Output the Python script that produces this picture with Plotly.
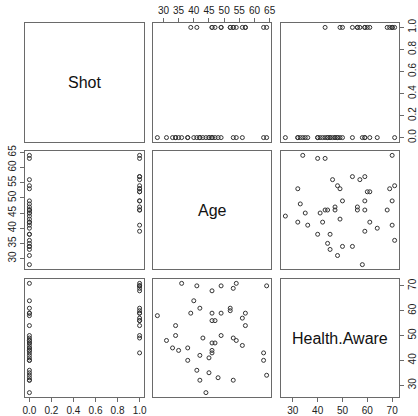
import plotly.graph_objects as go

# Data (Shot, Age, Health.Aware)
shot = [0, 1, 1, 1, 1, 1, 1, 0, 0, 1, 1, 0, 1, 0, 0, 1, 1, 1, 1, 0, 1, 0, 1, 0,
        0, 1, 0, 0, 0, 0, 0, 0, 0, 0, 0, 0, 0, 0, 1, 0, 0, 0, 0, 0, 0, 0, 0]
age = [36, 41, 49, 54, 53, 64, 46, 40, 42, 52, 52, 28, 39, 46, 49, 57, 56, 46, 47, 34, 57, 34, 49, 31,
       43, 53, 54, 46, 47, 56, 33, 35, 38, 46, 46, 42, 45, 38, 63, 63, 64, 41, 45, 48, 42, 53, 44]
health = [71, 70, 70, 71, 69, 70, 68, 64, 61, 61, 60, 58, 59, 59, 59, 59, 57, 56, 56, 54, 54, 50, 50, 48,
          49, 49, 48, 47, 47, 46, 45, 44, 45, 44, 43, 42, 41, 40, 43, 40, 34, 36, 35, 33, 32, 32, 27]

var_names = ["Shot", "Age", "Health.Aware"]
shot_ticks = [0.0, 0.2, 0.4, 0.6, 0.8, 1.0]
age_ticks = [30, 35, 40, 45, 50, 55, 60, 65]
health_ticks = [30, 40, 50, 60, 70]

data = [shot, age, health]
ticks = [shot_ticks, age_ticks, health_ticks]


def pad_range(v):
    lo, hi = min(v), max(v)
    d = (hi - lo) * 0.04
    return [lo - d, hi + d]


ranges = [pad_range(v) for v in data]

W, H = 418, 416
col_px = [(25, 144), (153, 271), (281, 399)]
row_px = [(23, 142), (151, 269), (279, 397)]

FONT = "Liberation Sans, Arial, sans-serif"
LINE = "#6a6a6a"
TXT = "#222222"

fig = go.Figure()
layout = dict(template="none", width=W, height=H, margin=dict(l=0, r=0, t=0, b=0, pad=0),
              paper_bgcolor="white", plot_bgcolor="white", showlegend=False,
              font=dict(family=FONT, size=10, color=TXT))
annotations = []

for i in range(3):
    for j in range(3):
        k = i * 3 + j + 1
        xs = "" if k == 1 else str(k)
        xd = [col_px[j][0] / W, col_px[j][1] / W]
        yd = [1 - row_px[i][1] / H, 1 - row_px[i][0] / H]
        xa = dict(domain=xd, anchor="y" + xs, range=ranges[j], showgrid=False,
                  zeroline=False, showline=True, mirror=True, linecolor=LINE,
                  linewidth=1, showticklabels=False, ticks="", automargin=False,
                  fixedrange=True)
        ya = dict(domain=yd, anchor="x" + xs, range=ranges[i], showgrid=False,
                  zeroline=False, showline=True, mirror=True, linecolor=LINE,
                  linewidth=1, showticklabels=False, ticks="", automargin=False,
                  fixedrange=True)
        # x axis ticks: col 1 and 3 at bottom (row 3), col 2 at top (row 1)
        if (j in (0, 2) and i == 2) or (j == 1 and i == 0):
            xa.update(showticklabels=True, ticks="outside", ticklen=4,
                      tickcolor=LINE, tickvals=ticks[j],
                      tickfont=dict(size=10, color=TXT, family=FONT))
            if j == 0:
                xa.update(tickformat=".1f")
            if j == 1:
                xa.update(side="top")
        # y axis ticks: row 2 on left (col 1), rows 1 and 3 on right (col 3)
        if (i == 1 and j == 0) or (i in (0, 2) and j == 2):
            ya.update(showticklabels=True, ticks="outside", ticklen=4,
                      tickcolor=LINE, tickvals=ticks[i], tickangle=-90,
                      tickfont=dict(size=10, color=TXT, family=FONT))
            if i == 0:
                ya.update(tickformat=".1f")
            if j == 2:
                ya.update(side="right")
        layout["xaxis" + xs] = xa
        layout["yaxis" + xs] = ya
        if i == j:
            fig.add_trace(go.Scatter(x=[], y=[], mode="markers",
                                     xaxis="x" + xs, yaxis="y" + xs,
                                     hoverinfo="skip"))
            annotations.append(dict(text=var_names[i], xref="x" + xs + " domain",
                                    yref="y" + xs + " domain", x=0.5, y=0.5,
                                    showarrow=False,
                                    font=dict(size=16, color="#111111", family=FONT)))
        else:
            fig.add_trace(go.Scatter(
                x=data[j], y=data[i], mode="markers",
                xaxis="x" + xs, yaxis="y" + xs,
                marker=dict(symbol="circle-open", size=4, color="#333333",
                            line=dict(width=1, color="#333333")),
                hoverinfo="skip"))

layout["annotations"] = annotations
fig.update_layout(**layout)
fig.write_html("out.html", config={"displayModeBar": False, "staticPlot": True},
               post_script="document.body.style.margin='0';document.body.style.overflow='hidden';")
